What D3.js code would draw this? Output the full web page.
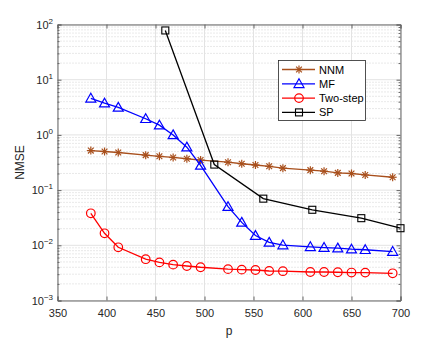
<!DOCTYPE html>
<html><head><meta charset="utf-8">
<script src="https://cdn.jsdelivr.net/npm/d3@7"></script>
<style>body{margin:0;background:#fff;} text{font-family:"Liberation Sans",Arial,Helvetica,sans-serif;}</style>
</head><body>
<svg id="c" width="443" height="338"></svg>
<script>
const pVals = [384, 398, 412, 440, 454, 468, 482, 496, 524, 538, 552, 566, 580, 608, 622, 636, 650, 664, 692];
const nnm = [0.52, 0.50, 0.48, 0.43, 0.41, 0.39, 0.37, 0.35, 0.32, 0.30, 0.285, 0.27, 0.25, 0.23, 0.22, 0.205, 0.20, 0.188, 0.171];
const mf = [4.6, 3.75, 3.15, 1.96, 1.5, 1.0, 0.6, 0.28, 0.050, 0.026, 0.015, 0.0113, 0.0101, 0.0094, 0.0091, 0.0089, 0.0085, 0.0083, 0.0077];
const twoStep = [0.038, 0.0165, 0.0092, 0.0056, 0.0049, 0.00446, 0.00422, 0.004, 0.0037, 0.00362, 0.00357, 0.00342, 0.0034, 0.00328, 0.00328, 0.00325, 0.00321, 0.0032, 0.00311];
const spP = [460, 510, 560, 610, 660, 700];
const sp = [78, 0.29, 0.070, 0.044, 0.031, 0.0204];
const xTicks = [350, 400, 450, 500, 550, 600, 650, 700];
const yExps = [-3, -2, -1, 0, 1, 2];
const seriesNames = ["NNM", "MF", "Two-step", "SP"];
const seriesColors = ["#a84f1c", "#0000ff", "#ff0000", "#000000"];

const svg = d3.select("#c");
const L = 57.5, R = 400.5, T = 24.5, B = 300.5;
const x = d3.scaleLinear().domain([350, 700]).range([L, R]);
const y = d3.scaleLog().domain([1e-3, 1e2]).range([B, T]);

// grid
const g = svg.append("g");
yExps.slice(0, -1).forEach(e => {
  for (let k = 2; k <= 9; k++) {
    const v = k * Math.pow(10, e);
    g.append("line").attr("x1", L).attr("x2", R).attr("y1", y(v)).attr("y2", y(v))
      .attr("stroke", "#c8c8c8").attr("stroke-width", 0.8).attr("stroke-dasharray", "1,2");
  }
});
yExps.forEach(e => {
  g.append("line").attr("x1", L).attr("x2", R).attr("y1", y(Math.pow(10, e))).attr("y2", y(Math.pow(10, e)))
    .attr("stroke", "#e3e3e3").attr("stroke-width", 1);
});
xTicks.forEach(t => {
  g.append("line").attr("x1", x(t)).attr("x2", x(t)).attr("y1", T).attr("y2", B)
    .attr("stroke", "#e3e3e3").attr("stroke-width", 1);
});

// axes
const axCol = "#666";
const xb = svg.append("g").attr("transform", `translate(0,${B})`)
  .call(d3.axisBottom(x).tickValues(xTicks).tickSize(-4).tickPadding(9).tickFormat(d3.format("d")));
const xt = svg.append("g").attr("transform", `translate(0,${T})`)
  .call(d3.axisTop(x).tickValues(xTicks).tickSize(-4).tickFormat(""));
const yTickVals = yExps.map(e => Math.pow(10, e));
const minorVals = [];
yExps.slice(0, -1).forEach(e => { for (let k = 2; k <= 9; k++) minorVals.push(k * Math.pow(10, e)); });
const yl = svg.append("g").attr("transform", `translate(${L},0)`)
  .call(d3.axisLeft(y).tickValues(yTickVals).tickSize(-4).tickFormat(""));
const yr = svg.append("g").attr("transform", `translate(${R},0)`)
  .call(d3.axisRight(y).tickValues(yTickVals).tickSize(-4).tickFormat(""));
const ylm = svg.append("g").attr("transform", `translate(${L},0)`)
  .call(d3.axisLeft(y).tickValues(minorVals).tickSize(-2).tickFormat(""));
const yrm = svg.append("g").attr("transform", `translate(${R},0)`)
  .call(d3.axisRight(y).tickValues(minorVals).tickSize(-2).tickFormat(""));
[xb, xt, yl, yr, ylm, yrm].forEach(a => {
  a.selectAll("path.domain").attr("stroke", axCol).attr("stroke-width", 1);
  a.selectAll(".tick line").attr("stroke", axCol);
});
xb.selectAll(".tick text").attr("fill", "#262626").style("font-size", "11px")
  .style("font-family", "Liberation Sans, Arial, sans-serif");
ylm.select("path.domain").remove(); yrm.select("path.domain").remove();

// y tick labels with superscripts
yExps.forEach(e => {
  const t = svg.append("text").attr("x", 53).attr("y", y(Math.pow(10, e)) + 4)
    .attr("text-anchor", "end").attr("fill", "#262626").style("font-size", "11px");
  t.append("tspan").text("10");
  t.append("tspan").attr("dy", -5).style("font-size", "8px").text(String(e).replace("-", "\u2212"));
});

// labels
svg.append("text").attr("x", (L + R) / 2).attr("y", 335).attr("text-anchor", "middle")
  .attr("fill", "#262626").style("font-size", "12px").text("p");
svg.append("text").attr("transform", `translate(24,${(T + B) / 2}) rotate(-90)`).attr("text-anchor", "middle")
  .attr("fill", "#262626").style("font-size", "12px").text("NMSE");

// markers
function drawMarker(sel, type, cx, cy, col) {
  if (type === 0) {
    const r = 4;
    const gm = sel.append("g").attr("transform", `translate(${cx},${cy})`);
    [[-r, 0, r, 0], [0, -r, 0, r], [-r * 0.72, -r * 0.72, r * 0.72, r * 0.72], [-r * 0.72, r * 0.72, r * 0.72, -r * 0.72]].forEach(s => {
      gm.append("line").attr("x1", s[0]).attr("y1", s[1]).attr("x2", s[2]).attr("y2", s[3])
        .attr("stroke", col).attr("stroke-width", 1.2);
    });
  } else if (type === 1) {
    const s = 5;
    sel.append("path").attr("d", `M${cx},${cy - s}L${cx + s},${cy + s * 0.75}L${cx - s},${cy + s * 0.75}Z`)
      .attr("fill", "none").attr("stroke", col).attr("stroke-width", 1.2);
  } else if (type === 2) {
    sel.append("circle").attr("cx", cx).attr("cy", cy).attr("r", 4.3)
      .attr("fill", "none").attr("stroke", col).attr("stroke-width", 1.2);
  } else {
    sel.append("rect").attr("x", cx - 3.5).attr("y", cy - 3.5).attr("width", 7).attr("height", 7)
      .attr("fill", "none").attr("stroke", col).attr("stroke-width", 1.1);
  }
}

const series = [
  {xs: pVals, ys: nnm}, {xs: pVals, ys: mf}, {xs: pVals, ys: twoStep}, {xs: spP, ys: sp}
];
const line = d3.line().x(d => x(d[0])).y(d => y(d[1]));
series.forEach((s, i) => {
  const pts = s.xs.map((v, j) => [v, s.ys[j]]);
  const gs = svg.append("g");
  gs.append("path").attr("d", line(pts)).attr("fill", "none").attr("stroke", seriesColors[i]).attr("stroke-width", 1.3);
  pts.forEach(p => drawMarker(gs, i, x(p[0]), y(p[1]), seriesColors[i]));
});

// legend
const lg = svg.append("g");
lg.append("rect").attr("x", 278.5).attr("y", 60.5).attr("width", 87).attr("height", 60)
  .attr("fill", "#fff").attr("stroke", "#262626").attr("stroke-width", 0.8);
seriesNames.forEach((n, i) => {
  const yy = 69.5 + i * 14.3;
  lg.append("line").attr("x1", 282).attr("x2", 315).attr("y1", yy).attr("y2", yy)
    .attr("stroke", seriesColors[i]).attr("stroke-width", 1.3);
  drawMarker(lg, i, 299, yy, seriesColors[i]);
  lg.append("text").attr("x", 319).attr("y", yy + 4).attr("fill", "#000").style("font-size", "11px").text(n);
});
</script>
</body></html>
